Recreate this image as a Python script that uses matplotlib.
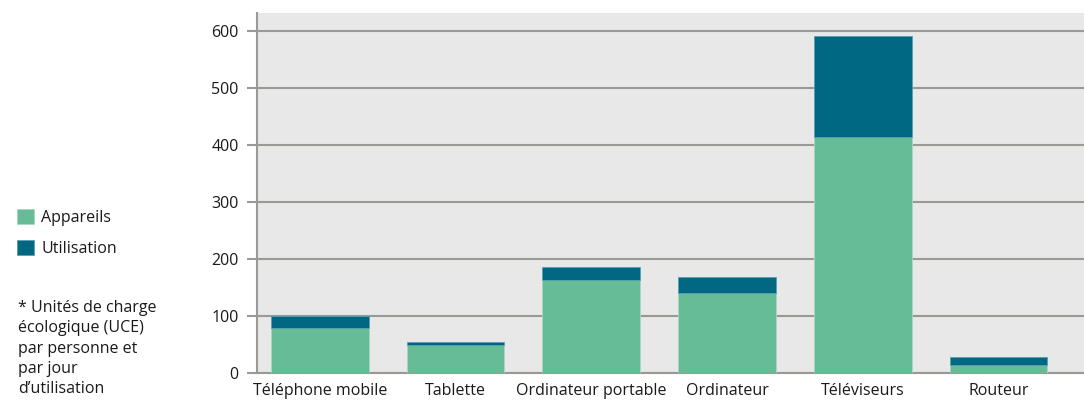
import matplotlib
matplotlib.use('Agg')
import matplotlib.pyplot as plt
import numpy as np

categories = ['Téléphone mobile', 'Tablette', 'Ordinateur portable', 'Ordinateur',
              'Téléviseurs', 'Routeur']
appareils = [80, 50, 164, 141, 414, 14]
utilisation = [21, 5, 23, 28, 177, 15]
yticks = [0, 100, 200, 300, 400, 500, 600]

GREEN = '#66bc97'
BLUE = '#006882'
GRID = '#9a9a94'
TEXT = '#1a1a1a'

plt.rcParams['font.family'] = ['Open Sans', 'DejaVu Sans']
FS = 11.5

fig = plt.figure(figsize=(10.84, 4.01), dpi=100)
ax = fig.add_axes([0.237, 0.0686, 0.763, 0.899])
ax.set_facecolor('#e8e8e8')

x = np.arange(len(categories))
ax.bar(x, appareils, width=0.72, color=GREEN, edgecolor='#a8d8c0', linewidth=0.6,
       label='Appareils', zorder=3)
ax.bar(x, utilisation, width=0.72, bottom=appareils, color=BLUE, edgecolor='#5a9fb3',
       linewidth=0.6, label='Utilisation', zorder=3)

ax.set_xlim(-0.463, 5.63)
ax.set_ylim(0, 631)
ax.set_yticks(yticks)
ax.set_xticks(x)
ax.set_xticklabels(categories)
ax.yaxis.grid(True, color=GRID, linewidth=1.5, zorder=1)
ax.set_axisbelow(True)

for s in ['top', 'right']:
    ax.spines[s].set_visible(False)
for s in ['left', 'bottom']:
    ax.spines[s].set_color(GRID)
    ax.spines[s].set_linewidth(1.5)
ax.tick_params(axis='y', length=7, width=1.5, color=GRID, labelsize=FS, pad=6,
               labelcolor=TEXT)
ax.tick_params(axis='x', length=0, labelsize=FS, pad=6.5, labelcolor=TEXT)

handles, labels = ax.get_legend_handles_labels()
fig.legend(handles, labels, loc='upper left', bbox_to_anchor=(0.016, 0.478),
           frameon=False, fontsize=FS, handlelength=1.05, handleheight=1.05,
           handletextpad=0.45, labelspacing=0.85, borderpad=0, borderaxespad=0,
           labelcolor=TEXT)

fig.text(0.017, 0.252, "* Unités de charge\nécologique (UCE)\npar personne et\npar jour\nd’utilisation",
         fontsize=FS, va='top', ha='left', linespacing=1.36, color=TEXT)

fig.savefig('out.png', dpi=100)
